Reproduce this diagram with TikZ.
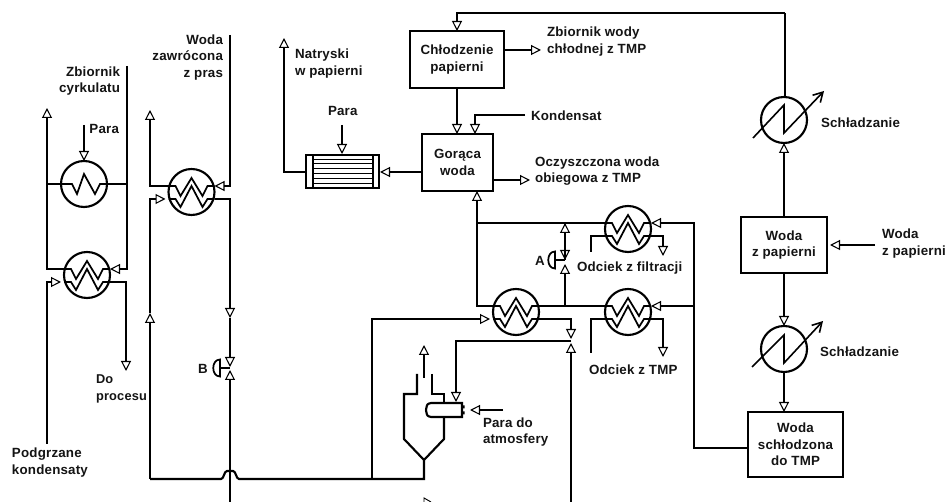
\documentclass[tikz,border=0pt]{standalone}
\usepackage{fontspec}
\setmainfont[LetterSpace=1.5]{Liberation Sans}
\usetikzlibrary{arrows.meta,calc}
\definecolor{ink}{HTML}{141414}
\tikzset{
  x=0.75pt,y=-0.75pt,
  pipe/.style={line width=1.6pt,line join=miter},
  arr/.style={pipe,-{Triangle[open,fill=white,length=7.5pt,width=7.5pt,line width=.8pt]}},
  barb/.style={line width=1.2pt,-{Straight Barb[length=7pt,width=8pt,line width=1.2pt]}},
  box/.style={draw,line width=1.6pt,inner sep=0pt,outer sep=0pt,align=center,font=\bfseries\fontsize{10}{12.4}\selectfont,text=ink},
  lab/.style={inner sep=0pt,outer sep=0pt,font=\bfseries\fontsize{10}{12.4}\selectfont,text=ink},
  labl/.style={lab,anchor=west,align=left},
  labr/.style={lab,anchor=east,align=right},
  hxc/.style={draw,circle,line width=1.6pt,minimum size=34.5pt,inner sep=0pt,outer sep=0pt},
  coil/.style={line width=1.3pt,line join=miter},
  hxd/.pic={
    \node[hxc] (c) at (0,0) {};
    \coordinate (ul) at (-23,-6); \coordinate (ur) at (23,-6);
    \coordinate (ll) at (-23,7);  \coordinate (lr) at (23,7);
    \draw[coil] (ul)--(-16,-6)--(-11,4)--(0,-14)--(11,4)--(16,-6)--(ur);
    \draw[coil] (ll)--(-16,7)--(-11,15)--(0,-6)--(11,15)--(16,7)--(lr);
  },
  hxs/.pic={
    \node[hxc] (c) at (0,0) {};
    \draw[coil] (-23,0)--(-12,0)--(-7,10)--(0,-10)--(11,10)--(16,0)--(23,0);
  },
  act/.pic={
    \draw[line width=1.3pt] (0,-8.5) .. controls (-9,-8.5) and (-9,8.5) .. (0,8.5) -- cycle;
  },
}
\begin{document}
\begin{tikzpicture}
\useasboundingbox[fill=white] (0,0) rectangle (947,502);

% equipment
\pic (e1) at (84,184) {hxs};
\pic (e2) at (87,275) {hxd};
\pic (e3) at (191.5,192) {hxd};
\pic (e4) at (516,312) {hxd};
\pic (e5) at (628,229) {hxd};
\pic (e6) at (628,312) {hxd};
\node[hxc] (e7) at (784,120) {};
\node[hxc] (e8) at (784,349) {};
\node[box,minimum width=70.5pt,minimum height=42.75pt] (c) at (457,59.5) {Chłodzenie\\papierni};
\node[box,minimum width=53.25pt,minimum height=42.75pt] (g) at (457.5,162.5) {Gorąca\\woda};
\node[box,minimum width=54.75pt,minimum height=24.75pt] (f) at (342.5,171.5) {};
\node[box,minimum width=64.5pt,minimum height=42pt] (w1) at (784,245) {Woda\\z papierni};
\node[box,minimum width=71.25pt,minimum height=48.75pt] (w2) at (795.5,444.5) {Woda\\schłodzona\\do TMP};

% filter interior
\draw[line width=1.2pt] (313,155)--(313,188) (373,155)--(373,188);
\foreach \yy in {159,163,168,173,178,183} \draw[line width=.7pt] (313,\yy)--(373,\yy);

% cooler zigzags
\draw[barb] (753,138)--(784,105)--(784,133)--(824,91);
\draw[barb] (752,367)--(784,335)--(784,363)--(823,321);

% free ends and junctions
\coordinate (o1) at (47,108);
\coordinate (z1) at (127,66);
\coordinate (pk) at (47,444);
\coordinate (dp) at (126,371);
\coordinate (pp) at (84,125);
\coordinate (o3) at (150,110);
\coordinate (wz) at (230,35);
\coordinate (bb) at (230,502);
\coordinate (hl) at (150,479);
\coordinate (hb) at (372,479);
\coordinate (cb) at (424,479);
\coordinate (cy) at (424,460);
\coordinate (bd) at (230,318);
\coordinate (bu) at (150,313);
\coordinate (vbt) at (230,367);
\coordinate (vbb) at (230,370);
\coordinate (ab) at (220,368);
\coordinate (na) at (284,38);
\coordinate (np) at (284,172);
\coordinate (fe) at (380,172);
\coordinate (fw) at (306,172);
\coordinate (ge) at (422,172);
\coordinate (fp) at (342,125);
\coordinate (ftop) at (342,154);
\coordinate (ka) at (525,115);
\coordinate (kt) at (475,134);
\coordinate (z2) at (541,50);
\coordinate (oc) at (530,180);
\coordinate (gb) at (477,191);
\coordinate (ji) at (477,223);
\coordinate (vat) at (565,260);
\coordinate (vab) at (565,264);
\coordinate (aa) at (555,260);
\coordinate (jt) at (565,223);
\coordinate (jm) at (565,306);
\coordinate (rx) at (694,223);
\coordinate (wj) at (748,448);
\coordinate (f5) at (591,252);
\coordinate (t5) at (663,256);
\coordinate (f6) at (591,353);
\coordinate (t6) at (663,357);
\coordinate (vct) at (571,339);
\coordinate (vcb) at (571,343);
\coordinate (vcj) at (571,341);
\coordinate (cbt) at (571,502);
\coordinate (st) at (456,402);
\coordinate (top) at (785,13);
\coordinate (wr) at (875,245);
\coordinate (wt) at (830,245);
\coordinate (pd) at (503,410);
\coordinate (pt) at (470,410);
\coordinate (u1) at (424,378);
\coordinate (u2) at (424,345);

% left exchangers
\draw[arr] (e2ul) -| (o1);
\draw[pipe] (e1c.west) -- (e1c.west -| o1);
\draw[pipe] (e1c.east) -- (e1c.east -| z1);
\draw[arr] (z1) |- (e2ur);
\draw[arr] (pk) |- ([xshift=-2.25pt]e2ll);
\draw[arr] (e2lr) -| (dp);
\draw[arr] (pp) -- (e1c.north);

% second column
\draw[arr] (e3ul) -| (o3);
\draw[arr] (wz) |- (e3ur);
\draw[arr] (hl) -- (bu);
\draw[arr] (bu) |- ([xshift=-2.25pt]e3ll);
\draw[arr] (e3lr) -| (bd);
\draw[arr] (bd) -- (vbt);
\draw[arr] (bb) -- (vbb);
\draw[pipe] (ab) -- (ab -| bb);
\pic at (ab) {act};
\draw[pipe] (hl) -- (221,479) .. controls (224,479) and (224,471) .. (227,471) -- (233,471) .. controls (236,471) and (236,479) .. (239,479) -- (cb) -- (cy);
\draw[arr] (hb) |- ([xshift=-2.25pt]e4ll);

% paper-mill part
\draw[arr] (top) -| (c.north);
\draw[pipe] (top) -- (e7.north -| top);
\draw[arr] (c.east |- z2) -- (z2);
\draw[arr] (c.south) -- (c.south |- g.north);
\draw[arr] (ka) -| (kt);
\draw[arr] (g.east |- oc) -- (oc);
\draw[arr] (ge) -- (fe);
\draw[arr] (fw) -- (np) -- (na);
\draw[arr] (fp) -- (ftop);

% central exchangers
\draw[arr] (e4ul) -| (gb);
\draw[pipe] (e5ul) -- (ji);
\draw[pipe] (e4ur) -- (e6ul);
\draw[arr] (jm) -- (vab);
\draw[arr] (jt) -- (vat);
\draw[arr] (vat) -- (jt);
\draw[pipe] (aa) -- (aa -| jm);
\pic at (aa) {act};
\draw[arr] (wj) -| (rx) -- (e5ur);
\draw[arr] (rx |- e6ur) -- (e6ur);
\draw[pipe] (f5) |- (e5ll);
\draw[arr] (e5lr) -| (t5);
\draw[pipe] (f6) |- (e6ll);
\draw[arr] (e6lr) -| (t6);

% valve at the hot exchanger
\draw[arr] (e4lr) -| (vct);
\draw[arr] (cbt) -- (vcb);
\draw[arr] (vcj) -| (st);

% coolers and water boxes
\draw[arr] (w1.north) -- (e7.south);
\draw[arr] (w1.south) -- (e8.north);
\draw[arr] (e8.south) -- (e8.south |- w2.north);
\draw[arr] (wr) -- (wt);

% flash vessel
\draw[pipe] (417,374) -- (417,394) -- (404,394) -- (404,439) -- (cy) -- (444,439) -- (444,417);
\draw[pipe] (432,374) -- (432,394) -- (444,394) -- (444,403);
\draw[pipe] (462,403) -- (431,403) .. controls (427,404) .. (426,410) .. controls (427,416) .. (431,417) -- (462,417) -- cycle;
\fill (461.5,405.5) rectangle (464.5,408.5) (461.5,411.5) rectangle (464.5,414.5);
\draw[arr] (u1) -- (u2);
\draw[arr] (pd) -- (pt);

% clipped mark at the bottom edge
\draw[line width=.7pt] (424,502) -- (424,498) -- (431,502);

% labels
\node[labr] (t1) at (120,81) {Zbiornik\\cyrkulatu};
\node[labr] (t2) at (119,129) {Para};
\node[labr] (t3) at (223,57.5) {Woda\\zawrócona\\z pras};
\node[labl,font=\bfseries\fontsize{9.6}{12.4}\selectfont] (t4) at (96,389) {Do\\procesu};
\node[labl] (t5l) at (12,462.5) {Podgrzane\\kondensaty};
\node[labl] (t6l) at (198,369) {B};
\node[labl] (t7) at (295,63.5) {Natryski\\w papierni};
\node[labl] (t8) at (328,111) {Para};
\node[labl] (t9) at (547,41.5) {Zbiornik wody\\chłodnej z TMP};
\node[labl] (t10) at (531,116) {Kondensat};
\node[labl] (t11) at (535,171) {Oczyszczona woda\\obiegowa z TMP};
\node[labl] (t12) at (821,123) {Schładzanie};
\node[labl] (t13) at (882,243.5) {Woda\\z papierni};
\node[labl] (t14) at (820,352) {Schładzanie};
\node[labl] (t15) at (577,268) {Odciek z filtracji};
\node[labl] (t16) at (589,370) {Odciek z TMP};
\node[labl] (t17) at (483,432) {Para do\\atmosfery};
\node[labl] (t18) at (535,261) {A};
\end{tikzpicture}
\end{document}
